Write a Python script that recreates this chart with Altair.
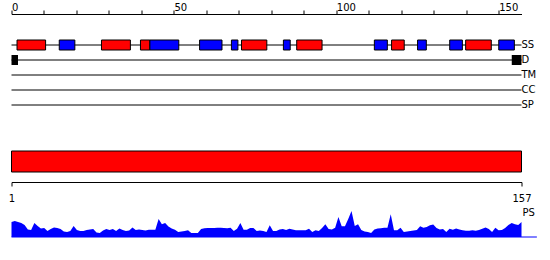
import altair as alt
import pandas as pd

LENGTH = 157
FONT = "DejaVu Sans"
FS = 10

track_names = ["SS", "D", "TM", "CC", "SP"]

# secondary structure elements (H = helix, red; E = strand, blue)
ss_start = [1.7, 14.7, 27.7, 39.7, 42.6, 57.9, 67.7, 70.8, 83.7, 87.8, 111.7, 117.0, 125.0, 134.9, 139.8, 150.0]
ss_end = [10.5, 19.5, 36.6, 42.6, 51.5, 64.8, 69.7, 78.6, 85.8, 95.6, 115.7, 120.9, 127.7, 138.8, 147.7, 154.8]
ss_type = ["H", "E", "H", "H", "E", "E", "E", "H", "E", "H", "E", "H", "E", "E", "H", "E"]

# disordered regions
dis_start = [0, 154]
dis_end = [2, 157]

# domain
domain_start = [1]
domain_end = [157]

# axis ticks
top_ticks = list(range(0, 151, 10))
bottom_ticks = [1, 157]

# PS profile, one value per residue 1..157
ps_values = [
    15, 16, 15, 14, 12, 7.5, 7, 14, 11, 8.5,
    9, 6, 8, 9.5, 9, 8, 5.5, 5, 6, 11,
    7, 6, 6, 7, 7.5, 8, 4.5, 4, 6.5, 8,
    7, 8, 6, 8.5, 7, 6, 6.5, 9.5, 7, 7.5,
    7, 6.5, 7.3, 7.3, 7.3, 18, 12.7, 14, 10.5, 8.5,
    7.3, 5, 5.5, 6, 6.7, 4, 4, 4, 8, 8.7,
    9, 9, 9, 9.2, 9.3, 9, 8.7, 9.3, 6, 8.3,
    14, 7.3, 7.3, 9, 9, 6, 6.5, 6, 5, 11.7,
    6, 6, 7.5, 8, 7, 8.3, 7.5, 6.7, 6.7, 6.7,
    6.7, 8.3, 5, 6.7, 6, 9, 12.7, 8, 7.5, 9.3,
    20, 10.7, 10.7, 18, 26, 11, 12.7, 7, 5.5, 5,
    4, 7.5, 8.5, 8.7, 9.3, 9.3, 22.7, 6.7, 6.7, 9.3,
    5, 5.5, 6, 6.5, 7, 10.7, 9.3, 10, 11.7, 12.5,
    9, 7.5, 8, 5, 8.3, 7.3, 8.5, 7.5, 6.7, 6.2,
    6.2, 6.7, 6.2, 7, 8.3, 9.5, 8, 5, 9.3, 6.7,
    7, 9, 12, 14, 12.7, 12, 15,
]
ps_baseline_end = 161.7

RED = "#ff0000"
BLUE = "#0000ff"
HALF_BOX = 0.3333  # half box height in track rows

# ---------- tracks panel ----------
x_top = alt.Scale(domain=[0, LENGTH], nice=False, zero=False)
y_tr = alt.Scale(domain=[-2.0667, 6.7333], nice=False, zero=False, reverse=True)
row_of = {t: i for i, t in enumerate(track_names)}

tracks_df = pd.DataFrame({
    "track": track_names,
    "row": [row_of[t] for t in track_names],
    "start": [0] * len(track_names),
    "end": [LENGTH] * len(track_names),
})
ss_df = pd.DataFrame({"row": row_of["SS"], "start": ss_start, "end": ss_end, "type": ss_type})
dis_df = pd.DataFrame({"row": row_of["D"], "start": dis_start, "end": dis_end})

top_axis = alt.Axis(
    orient="top", values=top_ticks, tickSize=4, labelPadding=-2,
    labelExpr="datum.value % 50 == 0 ? datum.label : ''",
    labelAlign="left", labelFlush=False,
    labelFont=FONT, labelFontSize=FS, labelColor="black",
    domainColor="black", tickColor="black", grid=False, title=None,
)

lines = alt.Chart(tracks_df).mark_rule(color="black", strokeWidth=1).encode(
    x=alt.X("start:Q", scale=x_top, axis=top_axis),
    x2="end:Q",
    y=alt.Y("row:Q", scale=y_tr, axis=None),
)
labels = alt.Chart(tracks_df).mark_text(
    align="left", baseline="middle", font=FONT, fontSize=FS, color="black"
).encode(
    x=alt.X("end:Q", scale=x_top, axis=top_axis),
    y=alt.Y("row:Q", scale=y_tr, axis=None),
    text="track:N",
)
ss_bars = alt.Chart(ss_df).transform_calculate(
    y0=f"datum.row - {HALF_BOX}", y1=f"datum.row + {HALF_BOX}"
).mark_rect(stroke="black", strokeWidth=1).encode(
    x=alt.X("start:Q", scale=x_top, axis=top_axis),
    x2="end:Q",
    y=alt.Y("y0:Q", scale=y_tr, axis=None),
    y2="y1:Q",
    color=alt.Color("type:N", scale=alt.Scale(domain=["H", "E"], range=[RED, BLUE]), legend=None),
)
dis_bars = alt.Chart(dis_df).transform_calculate(
    y0=f"datum.row - {HALF_BOX}", y1=f"datum.row + {HALF_BOX}"
).mark_rect(color="black").encode(
    x=alt.X("start:Q", scale=x_top, axis=top_axis),
    x2="end:Q",
    y=alt.Y("y0:Q", scale=y_tr, axis=None),
    y2="y1:Q",
)
tracks_panel = alt.layer(lines, ss_bars, dis_bars, labels).properties(width=510, height=132)

# ---------- domain panel ----------
x_dom = alt.Scale(domain=[1, LENGTH], nice=False, zero=False)
dom_df = pd.DataFrame({"start": domain_start, "end": domain_end})
bottom_axis = alt.Axis(
    values=bottom_ticks, offset=10, tickSize=4, labelPadding=7,
    labelFlush=False, labelAlign="center",
    labelFont=FONT, labelFontSize=FS, labelColor="black",
    domainColor="black", tickColor="black", grid=False, title=None,
)
domain_panel = alt.Chart(dom_df).mark_rect(color=RED, stroke="black", strokeWidth=1).encode(
    x=alt.X("start:Q", scale=x_dom, axis=bottom_axis),
    x2="end:Q",
).properties(width=510, height=21)

# ---------- PS panel ----------
ps_df = pd.DataFrame({"pos": list(range(1, LENGTH + 1)), "ps": ps_values})
y_ps = alt.Scale(domain=[0, 30], nice=False)
area = alt.Chart(ps_df).mark_area(color=BLUE, interpolate="linear").encode(
    x=alt.X("pos:Q", scale=x_dom, axis=None),
    y=alt.Y("ps:Q", scale=y_ps, axis=None),
)
base_df = pd.DataFrame({"start": [1], "end": [ps_baseline_end], "zero": [0]})
baseline = alt.Chart(base_df).mark_rule(color=BLUE, strokeWidth=1).encode(
    x=alt.X("start:Q", scale=x_dom, axis=None),
    x2="end:Q",
    y=alt.Y("zero:Q", scale=y_ps, axis=None),
)
ps_label_df = pd.DataFrame({"pos": [LENGTH], "top": [30], "name": ["PS"]})
ps_label = alt.Chart(ps_label_df).mark_text(
    align="left", baseline="top", dx=1, dy=1, font=FONT, fontSize=FS, color="black"
).encode(
    x=alt.X("pos:Q", scale=x_dom, axis=None),
    y=alt.Y("top:Q", scale=y_ps, axis=None),
    text="name:N",
)
ps_panel = alt.layer(baseline, area, ps_label).properties(width=510, height=30)

chart = alt.vconcat(tracks_panel, domain_panel, ps_panel, spacing=4).properties(
    padding={"left": 7.5, "top": 2, "right": 5, "bottom": 5},
    background="white",
).configure_view(stroke=None)

chart.save("out.html", embed_options={"renderer": "svg", "actions": False})
